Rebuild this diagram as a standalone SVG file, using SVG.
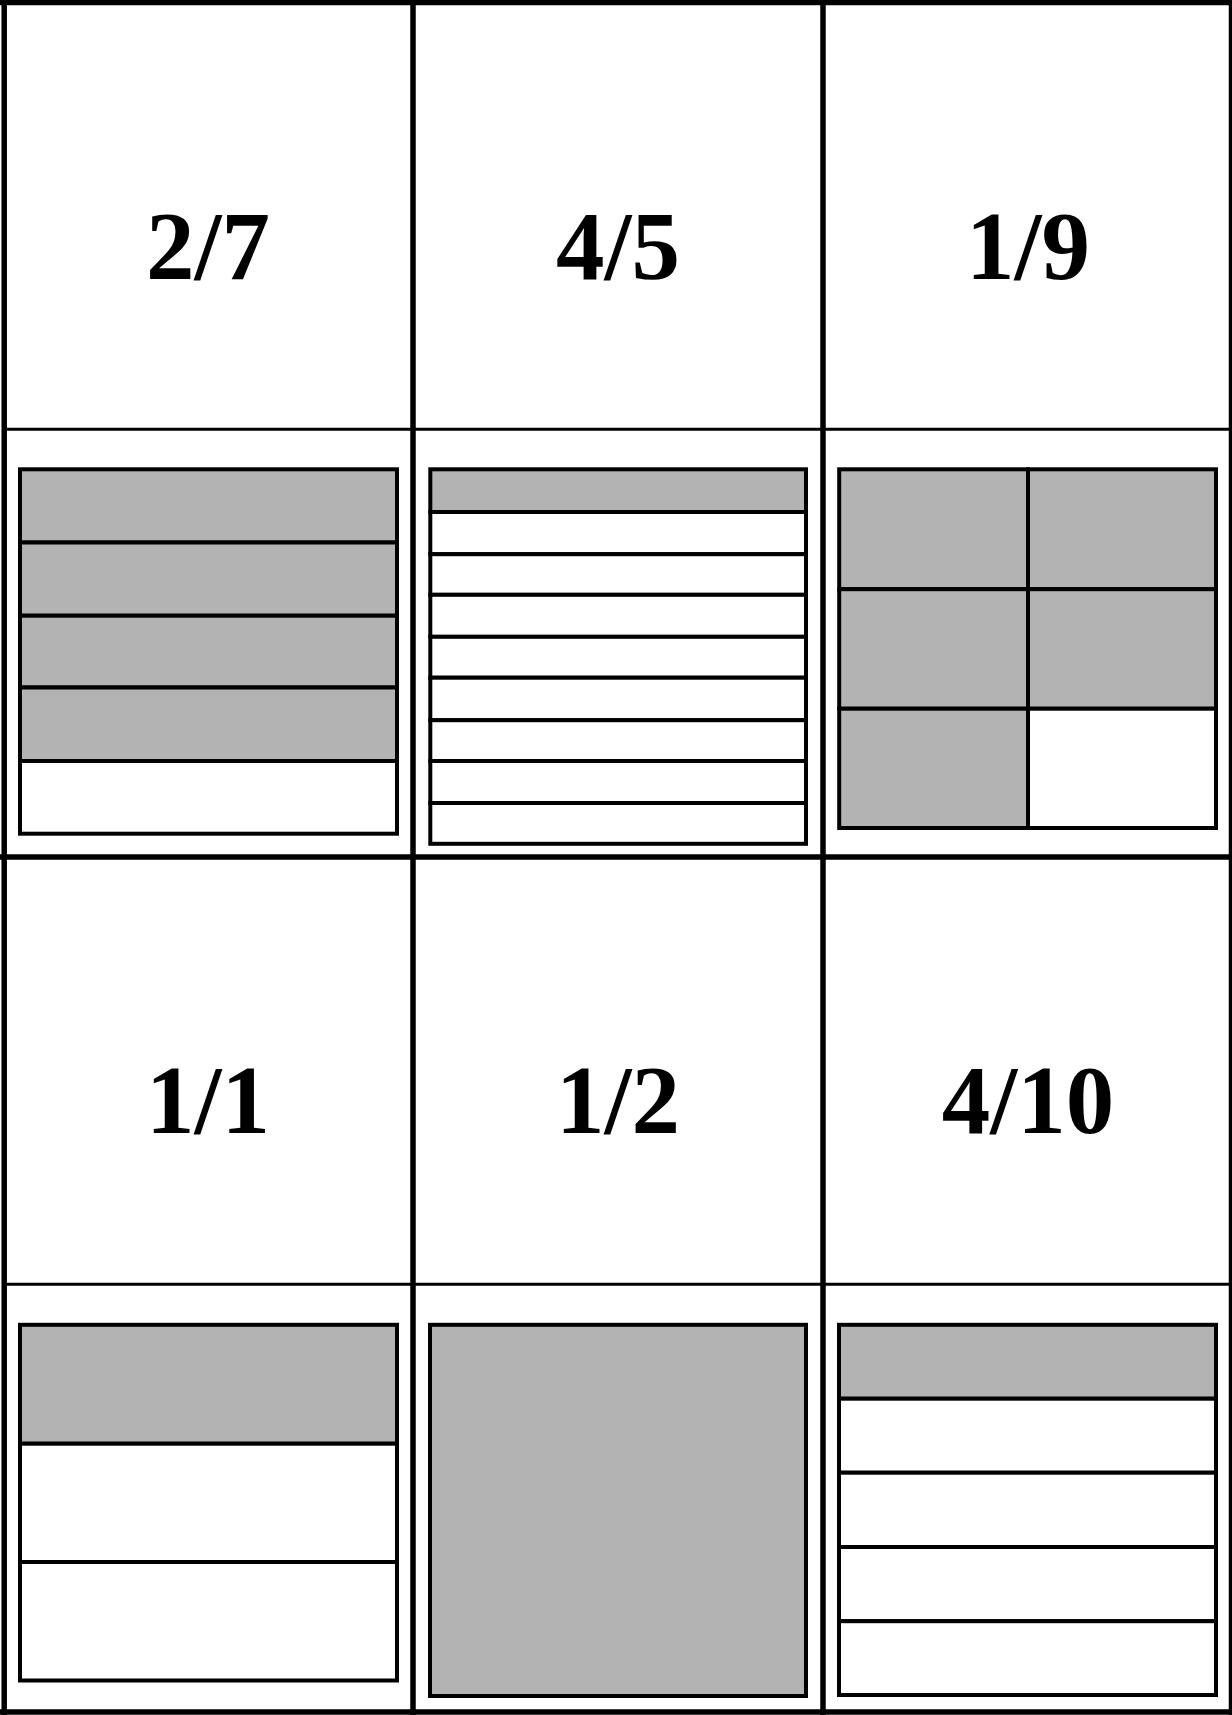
<svg xmlns="http://www.w3.org/2000/svg" width="1232" height="1715" viewBox="0 0 1232 1715">
<style>
.thick{stroke:#000;stroke-width:5.5;fill:none}
.thin{stroke:#000;stroke-width:3;fill:none}
.box{stroke:#000;stroke-width:4}
.g{fill:#b3b3b3}
.w{fill:#fff}
.lbl{font-family:"Liberation Serif","Times New Roman",serif;font-weight:bold;font-size:97px;text-anchor:middle;fill:#000}
</style>
<rect x="0" y="0" width="1232" height="1715" fill="#fff"/>
<g id="grid">
<line class="thin" x1="4" y1="429.3" x2="1232" y2="429.3"/>
<line class="thin" x1="4" y1="1284.3" x2="1232" y2="1284.3"/>
<line class="thick" x1="0" y1="2.5" x2="1232" y2="2.5"/>
<line class="thick" x1="0" y1="857" x2="1232" y2="857"/>
<line class="thick" x1="0" y1="1712" x2="1232" y2="1712"/>
<line class="thick" x1="4.2" y1="0" x2="4.2" y2="1715"/>
<line class="thick" x1="413" y1="0" x2="413" y2="1715"/>
<line class="thick" x1="823" y1="0" x2="823" y2="1715"/>
<line class="thick" x1="1231.5" y1="0" x2="1231.5" y2="1715"/>
</g>
<g id="label-2-7"><text class="lbl" x="208" y="279">2/7</text></g>
<g id="label-4-5"><text class="lbl" x="618" y="279">4/5</text></g>
<g id="label-1-9"><text class="lbl" x="1028" y="279">1/9</text></g>
<g id="label-1-1"><text class="lbl" x="208" y="1133">1/1</text></g>
<g id="label-1-2"><text class="lbl" x="618" y="1133">1/2</text></g>
<g id="label-4-10"><text class="lbl" x="1028" y="1133">4/10</text></g>
<g id="bar-a">
<rect class="box g" x="20" y="469.3" width="377" height="73.2"/>
<rect class="box g" x="20" y="542.5" width="377" height="73.2"/>
<rect class="box g" x="20" y="615.7" width="377" height="71.8"/>
<rect class="box g" x="20" y="687.5" width="377" height="73.5"/>
<rect class="box w" x="20" y="761" width="377" height="72.7"/>
</g>
<g id="bar-b">
<rect class="box g" x="430.3" y="469.3" width="375.7" height="42.7"/>
<rect class="box w" x="430.3" y="512" width="375.7" height="42.2"/>
<rect class="box w" x="430.3" y="554.2" width="375.7" height="40.6"/>
<rect class="box w" x="430.3" y="594.8" width="375.7" height="42"/>
<rect class="box w" x="430.3" y="636.8" width="375.7" height="40.9"/>
<rect class="box w" x="430.3" y="677.7" width="375.7" height="42.5"/>
<rect class="box w" x="430.3" y="720.2" width="375.7" height="40.8"/>
<rect class="box w" x="430.3" y="761" width="375.7" height="42"/>
<rect class="box w" x="430.3" y="803" width="375.7" height="40.8"/>
</g>
<g id="bar-c">
<rect class="box g" x="839.2" y="469.3" width="188.8" height="119.9"/>
<rect class="box g" x="1028" y="469.3" width="188" height="119.9"/>
<rect class="box g" x="839.2" y="589.2" width="188.8" height="119.5"/>
<rect class="box g" x="1028" y="589.2" width="188" height="119.5"/>
<rect class="box g" x="839.2" y="708.7" width="188.8" height="119.3"/>
<rect class="box w" x="1028" y="708.7" width="188" height="119.3"/>
</g>
<g id="bar-d">
<rect class="box g" x="20" y="1324.8" width="377" height="118.9"/>
<rect class="box w" x="20" y="1443.7" width="377" height="118.3"/>
<rect class="box w" x="20" y="1562" width="377" height="118.5"/>
</g>
<g id="bar-e">
<rect class="box g" x="430" y="1324.8" width="376" height="371.2"/>
</g>
<g id="bar-f">
<rect class="box g" x="839" y="1324.8" width="377" height="73.9"/>
<rect class="box w" x="839" y="1398.7" width="377" height="74"/>
<rect class="box w" x="839" y="1472.7" width="377" height="74.3"/>
<rect class="box w" x="839" y="1547" width="377" height="74.2"/>
<rect class="box w" x="839" y="1621.2" width="377" height="73.8"/>
</g>
</svg>
